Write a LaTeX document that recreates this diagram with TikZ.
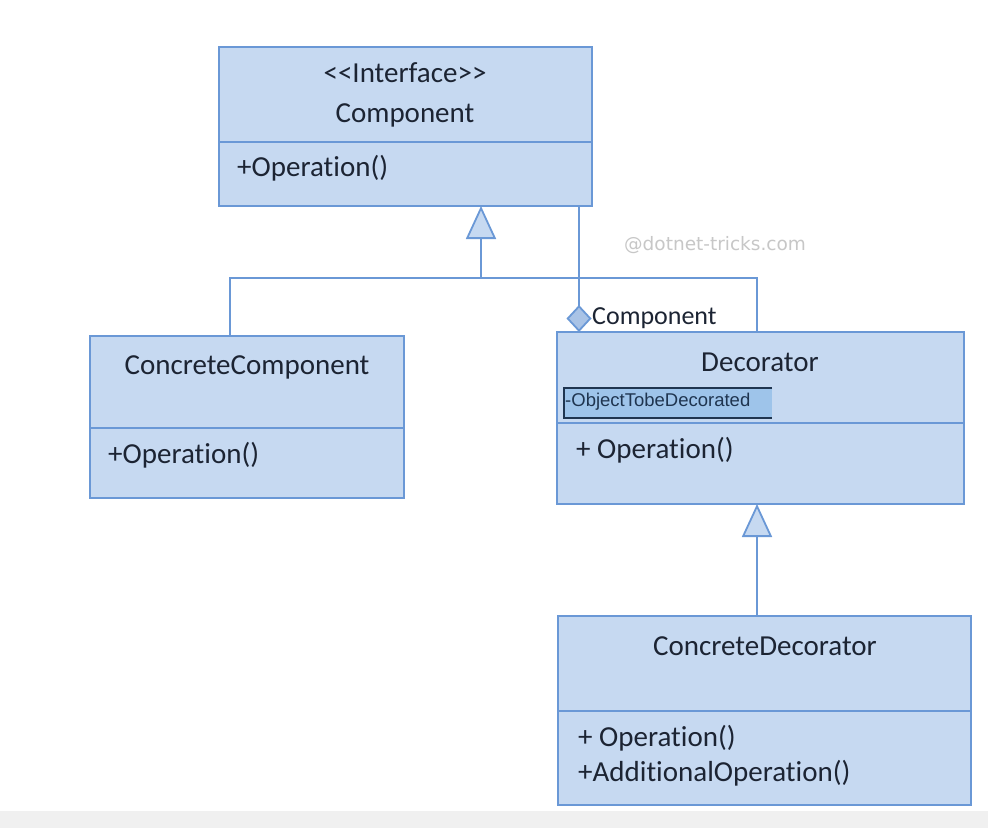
\documentclass[tikz,border=0pt]{standalone}
\usepackage{fontspec}
\setmainfont{Carlito}[Ligatures={NoCommon}]
\newfontfamily\arialf{Liberation Sans}
\newfontfamily\wmf{DejaVu Sans}
\usetikzlibrary{arrows.meta}
\definecolor{cfill}{HTML}{C6D9F1}
\definecolor{cline}{HTML}{6A98D6}
\definecolor{ctext}{HTML}{1C2433}
\definecolor{hl}{HTML}{9EC4EA}
\definecolor{hlb}{HTML}{1F3550}
\definecolor{dfill}{HTML}{A9C3E6}
\tikzset{
  cls/.style={draw=cline, fill=cfill, line width=1.8pt, inner sep=0pt, outer sep=0pt, anchor=north west},
  conn/.style={draw=cline, line width=1.8pt},
  div/.style={draw=cline, line width=1.8pt},
  txt/.style={text=ctext, font=\fontsize{29}{32}\selectfont, inner sep=0pt},
  ltxt/.style={txt, anchor=west},
  gen/.style={conn, -{Triangle[open, length=33pt, width=30pt, fill=cfill]}},
  agg/.style={conn, -{Diamond[length=27pt, width=25pt, fill=dfill]}},
}
\begin{document}
\begin{tikzpicture}[x=1pt,y=-1pt]
\useasboundingbox (0,0) rectangle (988,828);
\fill[white] (0,0) rectangle (988,828);
\fill[black!6] (0,811) rectangle (988,828);

% classes
\node[cls, minimum width=373pt, minimum height=159pt] (comp) at (219,47) {};
\draw[div] (219,142) -- (592,142);
\node[txt] (compst) at (405,73) {<{}<Interface>{}>};
\node[txt] (compn) at (405,115) {Component};
\node[ltxt] (compop) at (237,168) {+Operation()};

\node[cls, minimum width=314pt, minimum height=162pt] (cc) at (90,336) {};
\draw[div] (90,428) -- (404,428);
\node[txt] (ccn) at (247,367) {ConcreteComponent};
\node[ltxt] (ccop) at (108,455) {+Operation()};

\node[cls, minimum width=407pt, minimum height=172pt] (dec) at (557,332) {};
\draw[div] (557,423) -- (964,423);
\node[txt] (decn) at (760,362) {Decorator};
\node[fill=hl, anchor=north west, minimum width=209pt, minimum height=32pt, inner sep=0pt] (hlbox) at (563,387) {};
\draw[hlb, line width=1.6pt] (772,388) -- (564,388) -- (564,418) -- (772,418);
\node[anchor=west, inner sep=0pt, text=hlb, font=\arialf\fontsize{18.5}{20}\selectfont] (attr) at (565,402) {-ObjectTobeDecorated};
\node[ltxt] (decop) at (576,450) {+ Operation()};

\node[cls, minimum width=413pt, minimum height=189pt] (cd) at (558,616) {};
\draw[div] (558,711) -- (971,711);
\node[txt] (cdn) at (765,646) {ConcreteDecorator};
\node[ltxt] (cdop1) at (578,738) {+ Operation()};
\node[ltxt] (cdop2) at (578,773) {+AdditionalOperation()};

% connector points
\coordinate (j) at (481,278);
\coordinate (ccin) at (230,336);
\coordinate (decin) at (757,332);
\coordinate (comptip) at (481,206);
\coordinate (aggsrc) at (579,206);
\coordinate (aggtip) at (579,332);
\coordinate (dectip) at (757,504);
\coordinate (cdin) at (757,616);

% generalization Component
\draw[conn] (ccin) |- (j) -| (decin);
\draw[gen] (j) -- (comptip);
% aggregation
\draw[agg] (aggsrc) -- (aggtip);
\node[anchor=west, inner sep=0pt, text=ctext, font=\fontsize{26}{28}\selectfont] (agglbl) at (592,318) {Component};
% generalization Decorator
\draw[gen] (cdin) -- (dectip);

% watermark
\node[anchor=west, inner sep=0pt, text=black!22, font=\wmf\fontsize{18.5}{20}\selectfont] (wm) at (624,245) {@dotnet-tricks.com};
\end{tikzpicture}
\end{document}
